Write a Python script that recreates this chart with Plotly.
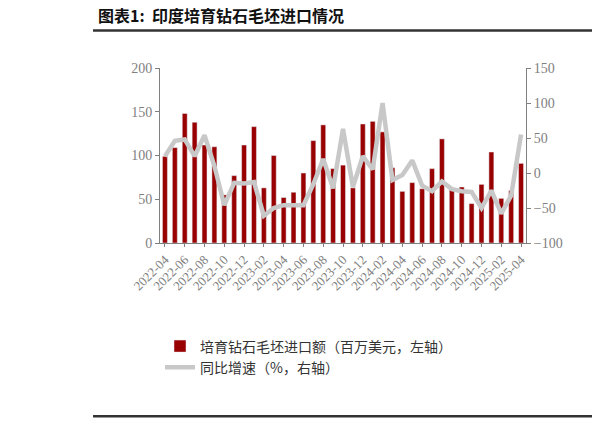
import plotly.graph_objects as go

months = ["2022-04","2022-05","2022-06","2022-07","2022-08","2022-09","2022-10","2022-11","2022-12",
          "2023-01","2023-02","2023-03","2023-04","2023-05","2023-06","2023-07","2023-08","2023-09","2023-10","2023-11","2023-12",
          "2024-01","2024-02","2024-03","2024-04","2024-05","2024-06","2024-07","2024-08","2024-09","2024-10","2024-11","2024-12",
          "2025-01","2025-02","2025-03","2025-04"]
imports = [99,109,148,138,112,110,55,77,112,133,63,100,52,58,80,117,135,85,89,63,136,139,127,86,59,69,62,85,119,63,64,45,67,104,51,60,91]
growth = [24,46,48,24,54,10,-46,-14,-15,-13,-61,-50,-46,-46,-46,-16,20,-22,63,-20,24,5,100,-10,-3,18,-18,-26,-12,-23,-26,-27,-50,-25,-58,-32,55]
tick_labels = months[::2]

serif = "Liberation Serif"
fig = go.Figure()
fig.add_bar(x=months, y=imports, name="培育钻石毛坯进口额（百万美元，左轴）",
            marker_color="#990000", width=0.5)
fig.add_scatter(x=months, y=growth, yaxis="y2", mode="lines", name="同比增速（%，右轴）",
                line=dict(color="#c8c8c8", width=4.5))

fig.update_layout(
    width=600, height=422, margin=dict(l=152, r=82, t=60, b=187),
    paper_bgcolor="white", plot_bgcolor="white",
    font=dict(family=serif, color="#808080", size=14),
    xaxis=dict(type="category", tickmode="array", tickvals=tick_labels, ticktext=tick_labels, tickangle=-45,
               showline=True, linecolor="#808080", ticks="outside", tickcolor="#808080", ticklen=3,
               tickfont=dict(size=13, color="#808080"), automargin=False),
    yaxis=dict(range=[0,200], dtick=50, showgrid=False, showline=True, linecolor="#808080",
               ticks="outside", tickcolor="#808080", ticklen=4, zeroline=False, automargin=False),
    yaxis2=dict(range=[-100,150], dtick=50, overlaying="y", side="right", showgrid=False,
                showline=True, linecolor="#808080", ticks="outside", tickcolor="#808080", ticklen=4,
                zeroline=False, tickformat="d", automargin=False),
    legend=dict(x=0.0, y=-0.5, xanchor="left", yanchor="top", orientation="v",
                font=dict(family="Noto Sans CJK SC", size=14, color="#333"), tracegroupgap=12),
    showlegend=True,
)
fig.add_annotation(xref="paper", yref="paper", x=-0.175, y=1.3, xanchor="left", yanchor="middle",
                   text="<b>图表1:  印度培育钻石毛坯进口情况</b>", showarrow=False,
                   font=dict(family="Noto Sans CJK SC", size=16, color="#111"))
fig.add_shape(type="line", xref="paper", yref="paper", x0=-0.183, x1=1.3, y0=1.215, y1=1.215,
              line=dict(color="#333", width=2.5))
fig.add_shape(type="line", xref="paper", yref="paper", x0=-0.183, x1=1.3, y0=-0.99, y1=-0.99,
              line=dict(color="#333", width=2.5))
fig.add_annotation(xref="paper", yref="paper", x=-0.16, y=-1.03, xanchor="left", yanchor="top",
                   text="<i>资料来源：GJEPC、万联证券研究所</i>", showarrow=False,
                   font=dict(family="Noto Sans CJK SC", size=13, color="#222"))
fig.write_html("out.html")
